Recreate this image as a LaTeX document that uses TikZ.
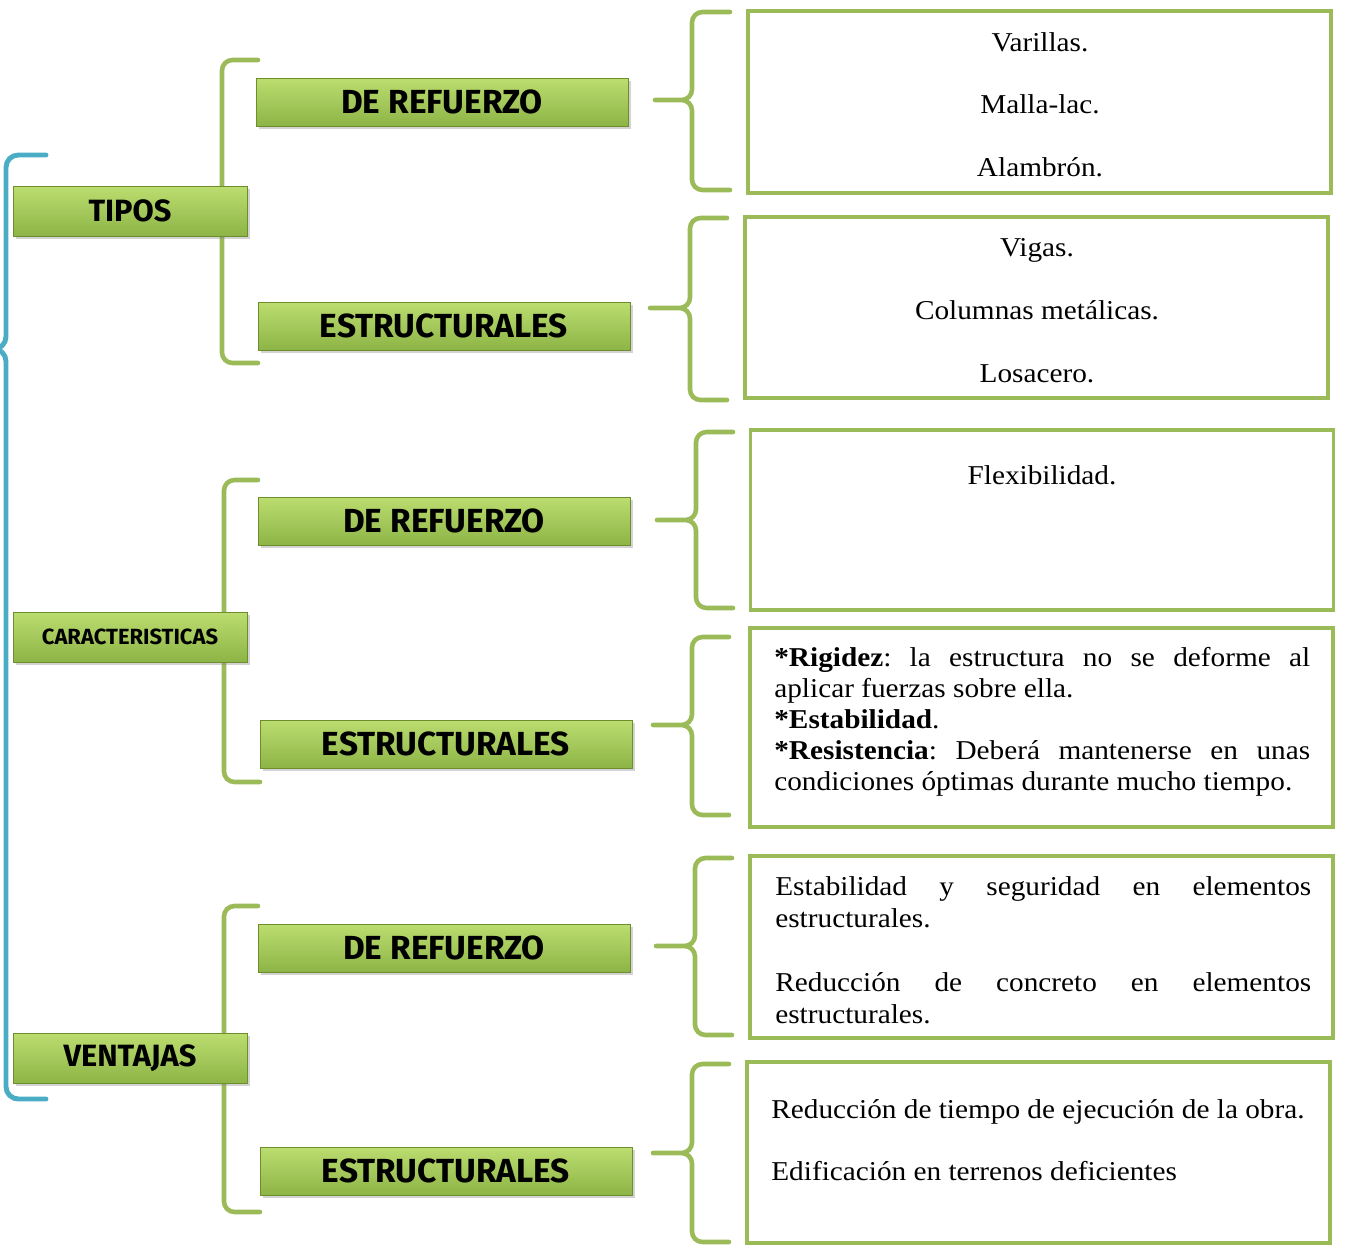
\documentclass[tikz,border=0pt]{standalone}
\usepackage{fontspec}
\setmainfont{Liberation Serif}[FakeStretch=1.075]
\newfontfamily\hdfont{Fira Sans}
\usetikzlibrary{shadows}

\definecolor{boxgreen}{HTML}{9BBB59}
\definecolor{hdtop}{HTML}{BCDD70}
\definecolor{hdbot}{HTML}{8DB446}
\definecolor{hdedge}{HTML}{6E8E2E}
\definecolor{bluebr}{HTML}{4BACC6}

\hyphenpenalty=10000
\exhyphenpenalty=10000
\frenchspacing

\begin{document}
\begin{tikzpicture}[
    x=0.02cm, y=-0.02cm,
    hdr/.style={rectangle, draw=hdedge, line width=0.5pt, top color=hdtop, bottom color=hdbot,
        drop shadow={opacity=0.35, shadow xshift=1.5pt, shadow yshift=-1.5pt},
        text=black, inner sep=0pt, font=\hdfont\bfseries\fontsize{17.5}{20}\selectfont},
    mainbox/.style={hdr, minimum width=4.68cm, minimum height=1.0cm},
    subbox/.style={hdr, minimum width=7.44cm, minimum height=0.96cm,
        font=\hdfont\bfseries\fontsize{19}{22}\selectfont},
    listbox/.style={rectangle, draw=boxgreen, line width=2.2pt, minimum width=11.66cm},
    txt/.style={inner sep=0pt, font=\fontsize{15.5}{17.7}\selectfont},
    gbrk/.style={draw=boxgreen, line width=2.6pt, rounded corners=6pt, line cap=round},
    bbrace/.style={draw=bluebr, line width=2.8pt, rounded corners=7pt, line cap=round}
]
\useasboundingbox (0,0) rectangle (1347,1245);

% big blue brace on the left
\draw[bbrace] (0,349) -| (6,155) -- (46,155) (0,349) -| (6,1099) -- (46,1099);

% green square brackets behind the main boxes
\draw[gbrk] (258,60) -| (222,363) -- (258,363);
\draw[gbrk] (258,480) -| (224,782) -- (260,782);
\draw[gbrk] (258,906) -| (224,1212) -- (260,1212);

% green curly braces in front of the lists
\draw[gbrk] (655,100) -| (692,12) -- (730,12) (655,100) -| (692,190) -- (730,190);
\draw[gbrk] (650,308) -| (690,218) -- (727,218) (650,308) -| (690,400) -- (727,400);
\draw[gbrk] (657,520) -| (696,432) -- (733,432) (657,520) -| (696,608) -- (733,608);
\draw[gbrk] (653,725) -| (692,637) -- (729,637) (653,725) -| (692,815) -- (729,815);
\draw[gbrk] (656,946) -| (695,858) -- (732,858) (656,946) -| (695,1035) -- (732,1035);
\draw[gbrk] (653,1153) -| (692,1064) -- (729,1064) (653,1153) -| (692,1242) -- (729,1242);

% main boxes
\node[mainbox] (tipos) at (130,211) {TIPOS};
\node[mainbox, font=\hdfont\bfseries\fontsize{12.5}{14}\selectfont] (carac) at (130,637) {CARACTERISTICAS};
\node[mainbox] (ventajas) at (130,1058) {VENTAJAS};

% sub boxes
\node[subbox] (ref1) at (442,102) {DE REFUERZO};
\node[subbox] (est1) at (444,326) {ESTRUCTURALES};
\node[subbox] (ref2) at (444,521) {DE REFUERZO};
\node[subbox] (est2) at (446,744) {ESTRUCTURALES};
\node[subbox] (ref3) at (444,948) {DE REFUERZO};
\node[subbox] (est3) at (446,1171) {ESTRUCTURALES};

% list boxes
\node[listbox, minimum height=3.64cm] (lst1) at (1039.5,102) {};
\node[listbox, minimum height=3.62cm] (lst2) at (1036.5,307.5) {};
\node[listbox, minimum height=3.60cm] (lst3) at (1042,520) {};
\node[listbox, minimum height=3.98cm] (lst4) at (1041.5,727.5) {};
\node[listbox, minimum height=3.64cm] (lst5) at (1041.5,947) {};
\node[listbox, minimum height=3.62cm] (lst6) at (1038.5,1152.5) {};

% texts of the lists
\node[txt, anchor=base] (var) at (1040,51) {Varillas.};
\node[txt, anchor=base] (mal) at (1040,113) {Malla-lac.};
\node[txt, anchor=base] (ala) at (1040,176) {Alambrón.};

\node[txt, anchor=base] (vig) at (1037,256) {Vigas.};
\node[txt, anchor=base] (col) at (1037,319) {Columnas metálicas.};
\node[txt, anchor=base] (los) at (1037,382) {Losacero.};

\node[txt, anchor=base] (flex) at (1042,484) {Flexibilidad.};

\node[txt, anchor=base west, text width=10.72cm, align=justify] (props) at (774,666)
    {\textbf{*Rigidez}: la estructura no se deforme al aplicar fuerzas sobre ella.\par
     \textbf{*Estabilidad}.\par
     \textbf{*Resistencia}: Deberá mantenerse en unas condiciones óptimas durante mucho tiempo.};

\node[txt, anchor=base west, text width=10.72cm, align=justify,
      font=\fontsize{15.5}{18.7}\selectfont] (seg) at (775,895)
    {Estabilidad y seguridad en elementos estructurales.};
\node[txt, anchor=base west, text width=10.72cm, align=justify,
      font=\fontsize{15.5}{18.7}\selectfont] (red) at (775,991)
    {Reducción de concreto en elementos estructurales.};

\node[txt, anchor=base west] (tiem) at (771,1118) {Reducción de tiempo de ejecución de la obra.};
\node[txt, anchor=base west] (edif) at (771,1180) {Edificación en terrenos deficientes};

\end{tikzpicture}
\end{document}
